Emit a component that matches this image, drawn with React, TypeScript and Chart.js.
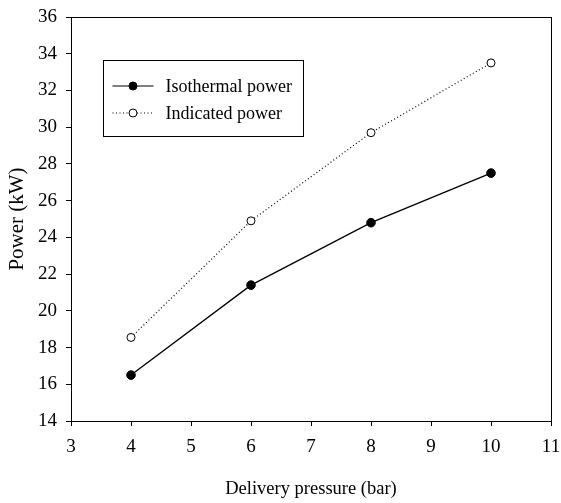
import React, { useEffect, useRef } from "react";
import { Chart, registerables } from "chart.js";

Chart.register(...registerables);

const pressures = [4, 6, 8, 10];
const isothermalPower = [16.5, 21.4, 24.8, 27.5];
const indicatedPower = [18.55, 24.9, 29.7, 33.5];
const seriesNames = ["Isothermal power", "Indicated power"];
const xTitle = "Delivery pressure (bar)";
const yTitle = "Power (kW)";

const FONT = '"Liberation Serif", "Times New Roman", serif';

const boxPlugin = {
  id: "boxAndLegend",
  afterDraw(chart: any) {
    const { ctx, chartArea } = chart;
    const { left, right, top, bottom } = chartArea;
    ctx.save();
    ctx.strokeStyle = "#000";
    ctx.lineWidth = 1;
    ctx.strokeRect(Math.round(left) + 0.5, Math.round(top) + 0.5, Math.round(right - left), Math.round(bottom - top));

    // legend
    const bx = Math.round(left + 32) + 0.5;
    const by = Math.round(top + 43) + 0.5;
    const bw = 200;
    const bh = 76;
    ctx.fillStyle = "#fff";
    ctx.fillRect(bx, by, bw, bh);
    ctx.strokeRect(bx, by, bw, bh);
    const rows = [by + 25.5, by + 52.5];
    const x0 = bx + 9;
    const x1 = bx + 50;
    const mx = (x0 + x1) / 2;
    ctx.font = "18px " + FONT;
    ctx.textBaseline = "middle";
    ctx.textAlign = "left";
    rows.forEach((ry, i) => {
      ctx.beginPath();
      ctx.lineWidth = 1.2;
      ctx.setLineDash(i === 0 ? [] : [1, 2.5]);
      ctx.moveTo(x0, ry);
      ctx.lineTo(x1, ry);
      ctx.stroke();
      ctx.setLineDash([]);
      ctx.beginPath();
      ctx.arc(mx, ry, 4, 0, Math.PI * 2);
      ctx.fillStyle = i === 0 ? "#000" : "#fff";
      ctx.fill();
      ctx.lineWidth = 1;
      ctx.stroke();
      ctx.fillStyle = "#000";
      ctx.fillText(seriesNames[i], bx + 62, ry + 1);
    });
    ctx.restore();
  },
};

export default function App() {
  const ref = useRef<HTMLCanvasElement>(null);
  useEffect(() => {
    if (!ref.current) return;
    const chart = new Chart(ref.current, {
      type: "line",
      data: {
        datasets: [
          {
            label: seriesNames[0],
            data: pressures.map((x, i) => ({ x, y: isothermalPower[i] })),
            borderColor: "#000",
            backgroundColor: "#000",
            borderWidth: 1.3,
            pointRadius: 4.3,
            pointBorderWidth: 1,
            pointBackgroundColor: "#000",
            pointBorderColor: "#000",
          },
          {
            label: seriesNames[1],
            data: pressures.map((x, i) => ({ x, y: indicatedPower[i] })),
            borderColor: "#000",
            backgroundColor: "#fff",
            borderWidth: 1.2,
            borderDash: [1, 2.5],
            pointRadius: 4,
            pointBorderWidth: 1,
            pointBackgroundColor: "#fff",
            pointBorderColor: "#000",
          },
        ],
      },
      options: {
        animation: false,
        responsive: false,
        layout: { padding: { left: 0, right: 10, top: 17, bottom: 0 } },
        plugins: { legend: { display: false }, tooltip: { enabled: false } },
        scales: {
          x: {
            type: "linear",
            min: 3,
            max: 11,
            afterFit: (s: any) => {
              s.height = 82;
              s.paddingLeft = 0;
              s.paddingRight = 0;
            },
            ticks: { stepSize: 1, color: "#000", padding: 10, maxRotation: 0, font: { family: FONT, size: 19 } },
            grid: { drawOnChartArea: false, drawTicks: true, tickLength: 5, color: "#000" },
            border: { display: true, color: "#000", width: 1 },
            title: { display: true, text: xTitle, color: "#000", font: { family: FONT, size: 18.5 }, padding: { top: 18, bottom: 3 } },
          },
          y: {
            type: "linear",
            min: 14,
            max: 36,
            afterFit: (s: any) => {
              s.width = 71;
              s.paddingTop = 0;
              s.paddingBottom = 0;
            },
            ticks: { stepSize: 2, color: "#000", padding: 9, font: { family: FONT, size: 19 } },
            grid: { drawOnChartArea: false, drawTicks: true, tickLength: 5, color: "#000" },
            border: { display: true, color: "#000", width: 1 },
            title: { display: true, text: yTitle, color: "#000", font: { family: FONT, size: 21, weight: "normal" }, padding: { top: 5, bottom: 0 } },
          },
        },
      },
      plugins: [boxPlugin],
    });
    return () => chart.destroy();
  }, []);
  return (
    <div style={{ position: "absolute", left: 0, top: 0, width: 561, height: 503, background: "#fff" }}>
      <canvas ref={ref} width={561} height={503} />
    </div>
  );
}
